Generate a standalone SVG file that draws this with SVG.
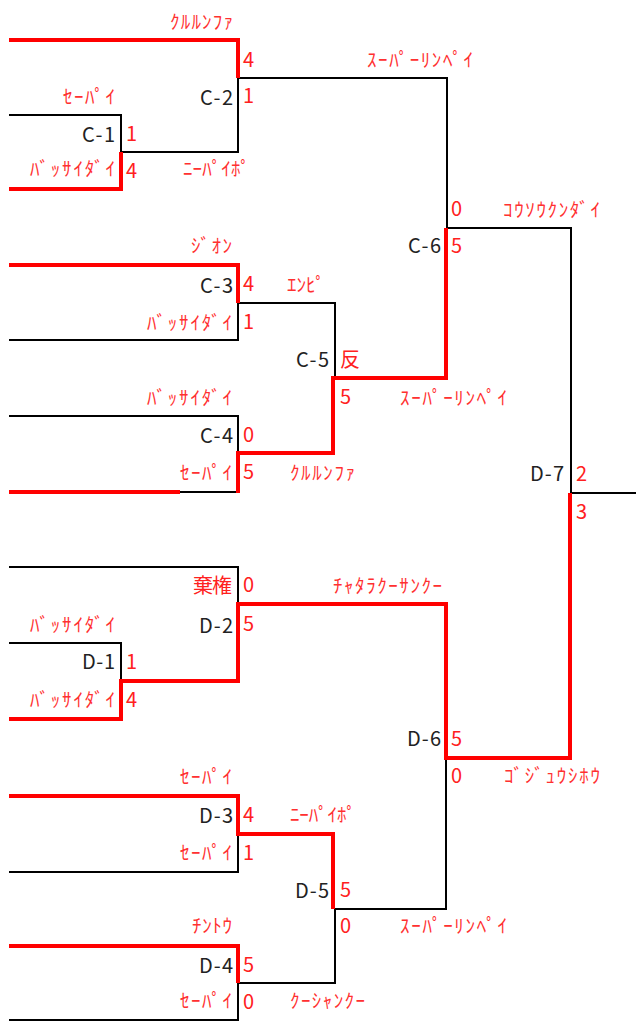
<svg xmlns="http://www.w3.org/2000/svg" width="636" height="1035" viewBox="0 0 636 1035">
<style>
.bg{fill:#fff}
.bk{fill:none;stroke:#000;stroke-width:2}
.rd{fill:none;stroke:#ff0000;stroke-width:4}
.lb{font-family:"Noto Sans CJK JP","Noto Sans",sans-serif;font-size:20px;fill:#222;text-anchor:end}
.sc{font-family:"Noto Sans CJK JP","Noto Sans",sans-serif;font-size:20px;fill:#ff2020}
.nm{font-family:"Noto Sans CJK JP",sans-serif;font-size:19px;fill:#ff3030}
</style>
<rect class="bg" x="0" y="0" width="636" height="1035"/>
<g id="connectors">
<path class="bk" d="M238,78 H447 V228 H571 V493 H636"/>
<path class="bk" d="M238,78 V152 H121 V115 H9"/>
<path class="bk" d="M238,303 H335 V378"/>
<path class="bk" d="M238,303 V340 H9"/>
<path class="bk" d="M9,416 H238 V453"/>
<path class="bk" d="M180,492 H238"/>
<path class="bk" d="M9,567 H238 V604"/>
<path class="bk" d="M9,643 H121 V681"/>
<path class="bk" d="M446,758 V909 H335"/>
<path class="bk" d="M238,834 V872 H9"/>
<path class="bk" d="M335,909 V983 H238 V1020 H9"/>
<path class="rd" d="M9,40 H238 V78"/>
<path class="rd" d="M9,189 H121 V152"/>
<path class="rd" d="M9,265 H238 V303"/>
<path class="rd" d="M9,492 H180"/>
<path class="rd" d="M238,493 V453 H333 V378 H446 V228"/>
<path class="rd" d="M9,719 H121 V681 H238 V604 H446 V758 H570 V493"/>
<path class="rd" d="M9,796 H238 V834 H333 V909"/>
<path class="rd" d="M9,946 H238 V983"/>
</g>
<g id="C-1">
<text class="nm" x="63" y="104" textLength="52">ｾｰﾊﾟｲ</text>
<text class="lb" x="115" y="142" textLength="33">C-1</text>
<text class="sc" x="126" y="141">1</text>
<text class="nm" x="30" y="176" textLength="85">ﾊﾞｯｻｲﾀﾞｲ</text>
<text class="sc" x="126" y="178">4</text>
</g>
<g id="C-2">
<text class="nm" x="170" y="29" textLength="63">ｸﾙﾙﾝﾌｧ</text>
<text class="sc" x="243" y="67">4</text>
<text class="lb" x="233" y="105" textLength="33">C-2</text>
<text class="sc" x="243" y="103">1</text>
<text class="nm" x="183" y="176" textLength="67">ﾆｰﾊﾟｲﾎﾟ</text>
</g>
<g id="C-3">
<text class="nm" x="191" y="253" textLength="41">ｼﾞｵﾝ</text>
<text class="lb" x="233" y="293" textLength="33">C-3</text>
<text class="sc" x="243" y="291">4</text>
<text class="nm" x="147" y="330" textLength="85">ﾊﾞｯｻｲﾀﾞｲ</text>
<text class="sc" x="243" y="329">1</text>
</g>
<g id="C-4">
<text class="nm" x="147" y="405" textLength="85">ﾊﾞｯｻｲﾀﾞｲ</text>
<text class="lb" x="233" y="443" textLength="33">C-4</text>
<text class="sc" x="243" y="442">0</text>
<text class="nm" x="180" y="480" textLength="52">ｾｰﾊﾟｲ</text>
<text class="sc" x="243" y="479">5</text>
</g>
<g id="C-5">
<text class="nm" x="287" y="292" textLength="38">ｴﾝﾋﾟ</text>
<text class="lb" x="329" y="367" textLength="33">C-5</text>
<text class="sc" x="340" y="367">反</text>
<text class="sc" x="340" y="404">5</text>
<text class="nm" x="290" y="480" textLength="65">ｸﾙﾙﾝﾌｧ</text>
</g>
<g id="C-6">
<text class="nm" x="367" y="67" textLength="106">ｽｰﾊﾟｰﾘﾝﾍﾟｲ</text>
<text class="sc" x="451" y="216">0</text>
<text class="lb" x="441" y="253" textLength="33">C-6</text>
<text class="sc" x="451" y="253">5</text>
<text class="nm" x="400" y="405" textLength="107">ｽｰﾊﾟｰﾘﾝﾍﾟｲ</text>
</g>
<g id="D-7">
<text class="nm" x="503" y="217" textLength="97">ｺｳｿｳｸﾝﾀﾞｲ</text>
<text class="lb" x="564" y="481" textLength="34">D-7</text>
<text class="sc" x="576" y="481">2</text>
<text class="sc" x="576" y="519">3</text>
<text class="nm" x="504" y="783" textLength="96">ｺﾞｼﾞｭｳｼﾎｳ</text>
</g>
<g id="D-1">
<text class="nm" x="30" y="632" textLength="85">ﾊﾞｯｻｲﾀﾞｲ</text>
<text class="lb" x="115" y="669" textLength="33">D-1</text>
<text class="sc" x="126" y="669">1</text>
<text class="nm" x="30" y="707" textLength="85">ﾊﾞｯｻｲﾀﾞｲ</text>
<text class="sc" x="126" y="707">4</text>
</g>
<g id="D-2">
<text class="sc" x="193" y="593" textLength="39">棄権</text>
<text class="sc" x="243" y="592">0</text>
<text class="lb" x="233" y="633" textLength="34">D-2</text>
<text class="sc" x="243" y="631">5</text>
</g>
<g id="D-3">
<text class="nm" x="180" y="784" textLength="52">ｾｰﾊﾟｲ</text>
<text class="lb" x="233" y="823" textLength="34">D-3</text>
<text class="sc" x="243" y="822">4</text>
<text class="nm" x="180" y="860" textLength="52">ｾｰﾊﾟｲ</text>
<text class="sc" x="243" y="860">1</text>
</g>
<g id="D-4">
<text class="nm" x="192" y="933" textLength="40">ﾁﾝﾄｳ</text>
<text class="lb" x="233" y="973" textLength="34">D-4</text>
<text class="sc" x="243" y="972">5</text>
<text class="nm" x="180" y="1008" textLength="52">ｾｰﾊﾟｲ</text>
<text class="sc" x="243" y="1009">0</text>
</g>
<g id="D-5">
<text class="nm" x="290" y="822" textLength="66">ﾆｰﾊﾟｲﾎﾟ</text>
<text class="lb" x="329" y="898" textLength="34">D-5</text>
<text class="sc" x="340" y="897">5</text>
<text class="sc" x="340" y="933">0</text>
<text class="nm" x="290" y="1008" textLength="75">ｸｰｼｬﾝｸｰ</text>
</g>
<g id="D-6">
<text class="nm" x="333" y="593" textLength="109">ﾁｬﾀﾗｸｰｻﾝｸｰ</text>
<text class="lb" x="441" y="746" textLength="34">D-6</text>
<text class="sc" x="451" y="746">5</text>
<text class="sc" x="451" y="783">0</text>
<text class="nm" x="400" y="933" textLength="107">ｽｰﾊﾟｰﾘﾝﾍﾟｲ</text>
</g>
</svg>
